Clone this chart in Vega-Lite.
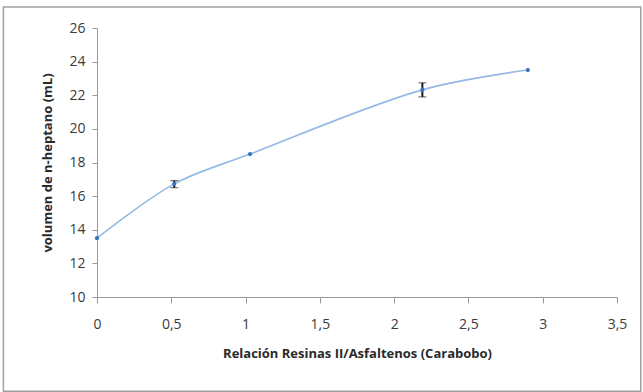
{
  "$schema": "https://vega.github.io/schema/vega-lite/v6.json",
  "width": 520,
  "height": 269,
  "autosize": {"type": "none"},
  "padding": {"left": 97, "top": 28, "right": 26, "bottom": 96},
  "background": "white",
  "config": {
    "view": {"stroke": null},
    "font": "Open Sans",
    "axis": {
      "grid": false,
      "domainColor": "#9a9a9a",
      "tickColor": "#9a9a9a",
      "labelColor": "#3a3a3a",
      "titleColor": "#2a2a2a",
      "labelFont": "Open Sans",
      "titleFont": "Open Sans",
      "labelFontSize": 14,
      "titleFontSize": 13,
      "titleFontWeight": "bold",
      "labelOverlap": false,
      "labelFlush": false
    },
    "axisX": {"tickSize": 6, "labelPadding": 14, "titlePadding": 16},
    "axisY": {"tickSize": 5, "labelPadding": 7, "titlePadding": 14}
  },
  "datasets": {
    "pts": [
      {"x": 0, "y": 13.5},
      {"x": 0.52, "y": 16.73},
      {"x": 1.03, "y": 18.5},
      {"x": 2.19, "y": 22.32},
      {"x": 2.9, "y": 23.5}
    ],
    "err": [
      {"x": 0.52, "lo": 16.5, "hi": 16.92},
      {"x": 2.19, "lo": 21.9, "hi": 22.74}
    ],
    "frame": [
      {"x1": -0.63, "x2": 3.66, "y1": 4.4, "y2": 27.25}
    ]
  },
  "layer": [
    {
      "data": {"name": "pts"},
      "mark": {"type": "line", "interpolate": "catmull-rom", "color": "#95b9e6", "strokeWidth": 1.6},
      "encoding": {
        "x": {
          "field": "x", "type": "quantitative",
          "title": "Relación Resinas II/Asfaltenos (Carabobo)",
          "scale": {"domain": [0, 3.5], "zero": false, "nice": false},
          "axis": {"values": [0, 0.5, 1, 1.5, 2, 2.5, 3, 3.5], "labelExpr": "replace(format(datum.value, '~g'), '.', ',')"}
        },
        "y": {
          "field": "y", "type": "quantitative",
          "title": "volumen de n-heptano (mL)",
          "scale": {"domain": [10, 26], "zero": false, "nice": false},
          "axis": {"values": [10, 12, 14, 16, 18, 20, 22, 24, 26]}
        }
      }
    },
    {
      "data": {"name": "frame"},
      "mark": {"type": "rect", "fill": null, "stroke": "#a0a0a0", "strokeWidth": 1.5, "clip": false},
      "encoding": {
        "x": {"field": "x1", "type": "quantitative", "title": "Relación Resinas II/Asfaltenos (Carabobo)",
          "scale": {"domain": [0, 3.5], "zero": false, "nice": false},
          "axis": {"values": [0, 0.5, 1, 1.5, 2, 2.5, 3, 3.5], "labelExpr": "replace(format(datum.value, '~g'), '.', ',')"}},
        "x2": {"field": "x2"},
        "y": {"field": "y1", "type": "quantitative", "title": "volumen de n-heptano (mL)",
          "scale": {"domain": [10, 26], "zero": false, "nice": false},
          "axis": {"values": [10, 12, 14, 16, 18, 20, 22, 24, 26]}},
        "y2": {"field": "y2"}
      }
    },
    {
      "data": {"name": "err"},
      "mark": {"type": "errorbar", "ticks": {"size": 8, "color": "#1a1a1a", "strokeWidth": 2}, "rule": {"color": "#1a1a1a", "strokeWidth": 2}},
      "encoding": {
        "x": {"field": "x", "type": "quantitative", "title": "Relación Resinas II/Asfaltenos (Carabobo)",
          "scale": {"domain": [0, 3.5], "zero": false, "nice": false},
          "axis": {"values": [0, 0.5, 1, 1.5, 2, 2.5, 3, 3.5], "labelExpr": "replace(format(datum.value, '~g'), '.', ',')"}},
        "y": {"field": "lo", "type": "quantitative", "title": "volumen de n-heptano (mL)",
          "scale": {"domain": [10, 26], "zero": false, "nice": false},
          "axis": {"values": [10, 12, 14, 16, 18, 20, 22, 24, 26]}},
        "y2": {"field": "hi"}
      }
    },
    {
      "data": {"name": "pts"},
      "mark": {"type": "point", "filled": true, "color": "#3a72c0", "size": 18, "opacity": 1},
      "encoding": {
        "x": {"field": "x", "type": "quantitative", "title": "Relación Resinas II/Asfaltenos (Carabobo)",
          "scale": {"domain": [0, 3.5], "zero": false, "nice": false},
          "axis": {"values": [0, 0.5, 1, 1.5, 2, 2.5, 3, 3.5], "labelExpr": "replace(format(datum.value, '~g'), '.', ',')"}},
        "y": {"field": "y", "type": "quantitative", "title": "volumen de n-heptano (mL)",
          "scale": {"domain": [10, 26], "zero": false, "nice": false},
          "axis": {"values": [10, 12, 14, 16, 18, 20, 22, 24, 26]}}
      }
    }
  ]
}
